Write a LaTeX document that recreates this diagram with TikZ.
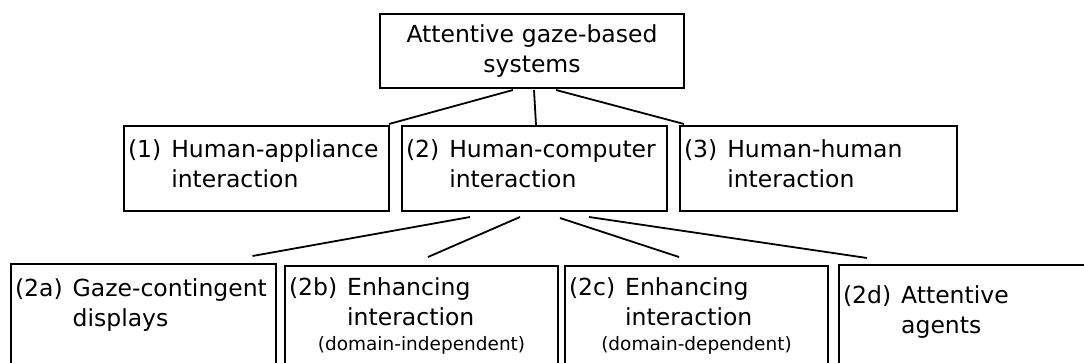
\documentclass[tikz,border=0pt]{standalone}
\usepackage{fontspec}
\setmainfont{DejaVu Sans}
\usetikzlibrary{positioning}
\newcommand{\taxfont}{\fontsize{23.5}{30}\selectfont}
\newcommand{\taxsmallfont}{\fontsize{18.5}{25}\selectfont}
\newcommand{\hanglabel}[3]{\begin{tabular}[t]{@{}l@{\hspace{10pt}}l@{}}#1 & #2\\ & #3\end{tabular}}
\tikzset{taxbox/.style={rectangle,draw=black,fill=white,line width=2pt,
inner xsep=4pt,inner ysep=5pt,anchor=north west,align=left,font=\taxfont}}
\tikzset{taxroot/.style={taxbox,align=center}}
\tikzset{taxlink/.style={line width=1.8pt}}

\begin{document}
\begin{tikzpicture}[x=1pt,y=-1pt]
    \path[use as bounding box,clip] (0,0) rectangle (1084,363);

        \node[taxroot,text width=296pt,text height=24pt,text depth=40pt] (root) at (379,13) {Attentive gaze-based\\systems};

        \node[taxbox,text width=257pt,text height=27pt,text depth=48pt] (happ) at (123,125) {\hanglabel{(1)}{Human-appliance}{interaction}};
        \node[taxbox,text width=257pt,text height=27pt,text depth=48pt] (hci) [right=11pt of happ] {\hanglabel{(2)}{Human-computer}{interaction}};
        \node[taxbox,text width=269pt,text height=27pt,text depth=48pt] (hhum) [right=11pt of hci] {\hanglabel{(3)}{Human-human}{interaction}};

        \node[taxbox,text width=257pt,text height=28pt,text depth=119pt] (gaze) at (10,263) {\hanglabel{(2a)}{Gaze-contingent}{displays}};
        \node[taxbox,text width=265pt,text height=25pt,text depth=120pt] (enhind) at (284,265) {\hanglabel{(2b)}{Enhancing}{interaction}\par{\taxsmallfont\centering (domain-independent)\par}};
        \node[taxbox,text width=255pt,text height=25pt,text depth=120pt] (enhdep) at (564,265) {\hanglabel{(2c)}{Enhancing}{interaction}\par{\taxsmallfont\centering (domain-dependent)\par}};
        \node[taxbox,text width=264pt,text height=33pt,text depth=113pt] (agents) at (838,264) {\hanglabel{(2d)}{Attentive}{agents}};

        \draw[taxlink] ([xshift=-19pt,yshift=-1pt]root.south) -- ([xshift=-1pt,yshift=1pt]happ.north east);
        \draw[taxlink] ([xshift=2pt,yshift=-1pt]root.south) -- ([xshift=1.5pt]hci.north);
        \draw[taxlink] ([xshift=24pt,yshift=-1pt]root.south) -- ([xshift=5pt,yshift=1pt]hhum.north west);

        \draw[taxlink] ([xshift=-64.5pt,yshift=-5pt]hci.south) -- ([xshift=109pt,yshift=7pt]gaze.north);
        \draw[taxlink] ([xshift=-14.5pt,yshift=-5pt]hci.south) -- ([xshift=6.5pt,yshift=8pt]enhind.north);
        \draw[taxlink] ([xshift=25.5pt,yshift=-6pt]hci.south) -- ([xshift=-17.5pt,yshift=8pt]enhdep.north);
        \draw[taxlink] ([xshift=54.5pt,yshift=-5pt]hci.south) -- ([xshift=29pt,yshift=6pt]agents.north west);

    \end{tikzpicture}
\end{document}
